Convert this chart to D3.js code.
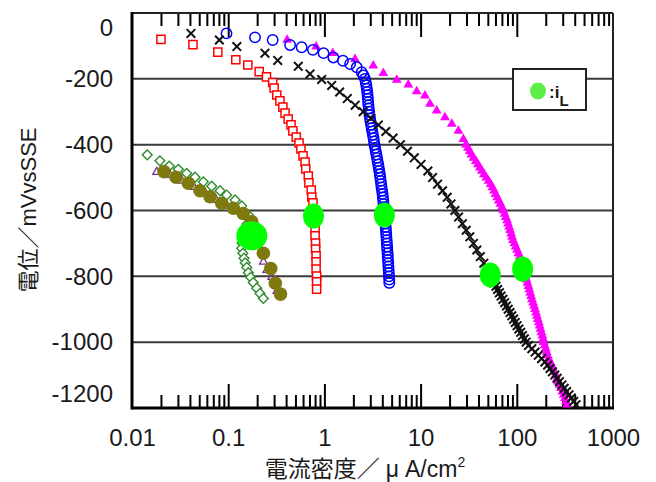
<!DOCTYPE html>
<html>
<head>
<meta charset="utf-8">
<title>分極曲線</title>
<script src="https://d3js.org/d3.v7.min.js"></script>
<style>
  body { margin: 0; background: #fff; }
  svg text { font-family: "Liberation Sans", Arial, "Noto Sans CJK JP", sans-serif; fill: #1a1a1a; }
</style>
</head>
<body>
<div id="chart"></div>
<script>

// ---- data (E in mV vs SSE, i in uA/cm2) ----
var xTickLabels = ["0.01", "0.1", "1", "10", "100", "1000"];
var yTickLabels = ["0", "-200", "-400", "-600", "-800", "-1000", "-1200"];

// red open squares
var redE = [-80,-96,-119,-142,-158,-178,-194,-211,-228,-249,-267,-286,-304,-322,-340,-358,-377,-395,
  -413,-434,-453,-474,-495,-516,-538,-559,-577,-598,-617,-638,-656,-677,-699,-717,-738,-756,-778,-799,-817,-839];
var redI = [0.020,0.043,0.078,0.12,0.16,0.21,0.25,0.29,0.30,0.32,0.345,0.37,0.39,0.42,0.45,0.47,0.51,0.545,
  0.57,0.60,0.63,0.64,0.68,0.69,0.73,0.74,0.76,0.77,0.78,0.79,0.80,0.80,0.81,0.81,0.82,0.82,0.82,0.83,0.83,0.83];

// blue open circles
var blueE = [-62,-74,-82,-97,-104,-112,-122,-135,-145,-155,-165,-180,
  -190,-200,-210,-220,-230,-240,-250,-260,-270,-280,
  -290,-300,-310,-320,-330,-340,-350,-360,-370,-380,
  -390,-400,-410,-420,-430,-440,-450,-460,-470,-480,
  -490,-500,-510,-520,-530,-540,-550,-560,-570,-580,
  -590,-600,-610,-620,-630,-640,-650,-660,-670,-680,
  -690,-700,-710,-720,-730,-740,-750,-760,-770,-780,
  -790,-800,-810,-820];
var blueI = [0.096,0.19,0.29,0.44,0.58,0.76,0.98,1.24,1.56,1.85,2.17,2.44,
  2.55,2.64,2.69,2.73,2.76,2.79,2.81,2.83,2.85,2.87,
  2.89,2.92,2.94,2.98,3.02,3.06,3.10,3.15,3.19,3.24,
  3.28,3.32,3.37,3.42,3.47,3.52,3.57,3.63,3.67,3.72,
  3.77,3.81,3.85,3.89,3.93,3.98,4.02,4.06,4.09,4.12,
  4.15,4.18,4.21,4.25,4.28,4.31,4.34,4.36,4.39,4.41,
  4.44,4.46,4.49,4.51,4.54,4.56,4.58,4.61,4.63,4.65,
  4.67,4.69,4.72,4.73];

// black crosses
var blackE = [-62,-82,-102,-122,-144,-162,-185,-202,
  -220,-240,-260,-280,-300,-320,-340,-360,-380,-400,
  -420,-440,-460,-480,-500,-520,-540,-560,-580,-600,
  -620,-640,-660,-680,-700,-720,-740,-760,-780,-800,
  -810,-820,-830,-840,-850,-860,-870,-880,-890,-900,
  -910,-920,-930,-940,-950,-960,-970,-980,-990,-1000,
  -1010,-1020,-1030,-1040,-1050,-1060,-1070,-1080,-1090,-1100,
  -1110,-1120,-1130,-1140,-1150,-1160,-1170,-1180,-1190];
var blackI = [0.041,0.081,0.123,0.241,0.327,0.535,0.709,0.937,
  1.19,1.44,1.73,2.09,2.53,3.04,3.64,4.35,5.18,6.17,
  7.31,8.60,10.1,11.9,13.3,15.0,16.9,18.9,20.7,22.7,
  24.8,27.2,29.8,32.5,35.4,38.4,41.8,45.4,49.4,53.5,
  55.9,58.2,60.8,63.2,65.9,68.7,71.7,74.8,78.2,81.4,
  85.0,88.7,92.6,96.5,100.7,105.1,109.8,114.6,119.7,125.0,
  132.3,143.2,155.0,167.3,181.1,196.0,209.1,221.4,234.5,248.3,
  262.4,277.9,294.3,311.0,329.4,348.8,368.6,390.4,413.4];

// magenta filled triangles
var magE = [-82,-102,-122,-140,-160,-183,-203,-218,-238,-251,-276,-297,-317,-337,-358,-383,
  -400,-410,-420,-430,-440,-450,-460,-470,-480,-490,
  -500,-510,-520,-530,-540,-550,-560,-570,-580,-590,
  -600,-610,-620,-630,-640,-650,-660,-670,-680,-690,
  -700,-710,-720,-730,-740,-750,-760,-770,-780,-790,
  -800,-810,-820,-830,-840,-850,-860,-870,-880,-890,
  -900,-910,-920,-930,-940,-950,-960,-970,-980,-990,
  -1000,-1010,-1020,-1030,-1040,-1050,-1060,-1070,-1080,-1090,
  -1100,-1110,-1120,-1130,-1140,-1150,-1160,-1170,-1180,-1190];
var magI = [0.41,0.82,1.22,2.08,3.22,4.10,5.65,7.45,9.11,11.1,12.5,14.7,17.9,21.1,24.7,27.8,
  29.6,31.1,32.4,33.8,35.5,37.6,39.4,41.3,43.3,45.6,
  48.2,50.9,53.4,55.8,58.1,60.1,62.6,65.0,67.5,70.0,
  72.4,74.7,76.9,79.3,81.2,83.2,85.2,87.3,89.2,91.3,
  94.4,97.4,100.5,103.9,107.4,110.6,112.7,115.2,117.7,120.5,
  123.2,126.2,128.9,132.0,134.9,137.8,140.8,143.9,147.4,151.0,
  154.6,158.4,161.8,165.3,169.3,172.6,176.4,180.2,184.1,187.7,
  190.4,195.0,199.7,204.1,209.1,214.6,221.9,228.9,236.7,244.8,
  253.1,261.8,270.0,279.2,288.0,297.9,307.3,316.2,325.4,334.1];

// dark green open diamonds
var diaE = [-431,-449,-465,-475,-487,-499,-513,-526,-540,-553,-568,-586,-614,-641,-671,-699,
  -715,-730,-745,-759,-773,-789,-803,-819,-836,-852,-867];
var diaI = [0.0144,0.0195,0.0244,0.0303,0.0370,0.0452,0.0551,0.0674,0.0822,0.0965,0.118,0.138,0.162,0.157,0.146,0.139,
  0.138,0.142,0.146,0.150,0.156,0.162,0.171,0.182,0.198,0.214,0.232];

// purple open triangles
var purE = [-483,-492,-510,-529,-547,-568,-586,-602,-620,-653,-705,-756,-781,-802,-845];
var purI = [0.0181,0.0248,0.0331,0.0441,0.0574,0.0747,0.0972,0.126,0.157,0.185,0.204,0.233,0.253,0.285,0.322];

// olive filled circles
var oliveE = [-482,-499,-517,-540,-558,-578,-593,-609,-634,-681,-730,-776,-821,-854];
var oliveI = [0.0215,0.0287,0.0385,0.0509,0.0647,0.0856,0.113,0.143,0.176,0.199,0.232,0.277,0.309,0.350];

// limiting current density iL (green)
var ilE = [-617,-614,-796,-778,-677];
var ilI = [0.77,4.2,53,115,0.176];

// ---- chart ----
var width = 656, height = 482;
var margin = {top: 13, right: 43, bottom: 74, left: 132};
var x0 = margin.left, x1 = width - margin.right;
var y0 = margin.top, y1 = height - margin.bottom;

var svg = d3.select("#chart")
  .append("svg")
    .attr("width", width)
    .attr("height", height);

var x = d3.scaleLog().domain([0.01, 1000]).range([x0, x1]);
var y = d3.scaleLinear().domain([-1200, 0]).range([y1, y0]);

function pts(E, I) {
  return E.map(function(e, k) { return {e: e, i: I[k]}; });
}

// horizontal grid
svg.append("g")
  .selectAll("line")
  .data([-200, -400, -600, -800, -1000])
  .enter().append("line")
    .attr("x1", x0).attr("x2", x1)
    .attr("y1", function(d) { return y(d); })
    .attr("y2", function(d) { return y(d); })
    .attr("stroke", "#3a3a3a")
    .attr("stroke-width", 2);

// log ticks, inside on top and bottom
var decades = [0.1, 1, 10, 100];
var minor = x.ticks().filter(function(v) {
  var l = Math.log10(v);
  return Math.abs(l - Math.round(l)) > 1e-6;
});

function tickAxis(axis, ty, vals, len) {
  var g = svg.append("g")
    .attr("transform", "translate(0," + ty + ")")
    .call(axis(x).tickValues(vals).tickSize(len).tickFormat(""));
  g.select(".domain").remove();
  g.selectAll("line").attr("stroke", "#000").attr("stroke-width", 2);
}
tickAxis(d3.axisTop, y1, minor, 13);
tickAxis(d3.axisTop, y1, decades, 24);
tickAxis(d3.axisBottom, y0, minor, 13);
tickAxis(d3.axisBottom, y0, decades, 24);

// x tick labels
var xl = svg.append("g")
  .attr("transform", "translate(0," + y1 + ")")
  .call(d3.axisBottom(x)
    .tickValues([0.01, 0.1, 1, 10, 100, 1000])
    .tickSize(0).tickPadding(21)
    .tickFormat(function(d, k) { return xTickLabels[k]; }));
xl.select(".domain").remove();
xl.selectAll("text").attr("font-size", 24).attr("font-family", null).style("fill", "#1a1a1a");

// y tick labels
var yl = svg.append("g")
  .attr("transform", "translate(" + x0 + ",0)")
  .call(d3.axisLeft(y)
    .tickValues([0, -200, -400, -600, -800, -1000, -1200])
    .tickSize(0).tickPadding(19)
    .tickFormat(function(d, k) { return yTickLabels[k]; }));
yl.select(".domain").remove();
yl.selectAll("text").attr("font-size", 24).attr("font-family", null).style("fill", "#1a1a1a")
  .attr("transform", function(d) { return d === 0 ? "translate(0,15)" : d === -1200 ? "translate(0,-14)" : null; });

// frame
svg.append("line").attr("x1", x0).attr("x2", x1).attr("y1", y0).attr("y2", y0).attr("stroke", "#222").attr("stroke-width", 2);
svg.append("line").attr("x1", x1).attr("x2", x1).attr("y1", y0).attr("y2", y1).attr("stroke", "#222").attr("stroke-width", 2);
svg.append("line").attr("x1", x0).attr("x2", x0).attr("y1", y0 - 1).attr("y2", y1 + 1.5).attr("stroke", "#000").attr("stroke-width", 3);
svg.append("line").attr("x1", x0).attr("x2", x1 + 1).attr("y1", y1).attr("y2", y1).attr("stroke", "#000").attr("stroke-width", 3);

// series markers
function markers(data, symbol, size, stroke, fill, sw, rot) {
  svg.append("g")
    .selectAll("path")
    .data(data)
    .enter().append("path")
      .attr("d", d3.symbol().type(symbol).size(size))
      .attr("transform", function(d) {
        return "translate(" + x(d.i) + "," + y(d.e) + ")" + (rot ? " rotate(" + rot + ")" : "");
      })
      .attr("fill", fill)
      .attr("stroke", stroke)
      .attr("stroke-width", sw);
}

markers(pts(magE, magI), d3.symbolTriangle, 42, "none", "#ff00ff", 0);
markers(pts(blueE, blueI), d3.symbolCircle, 85, "#0000ff", "none", 1.5);
markers(pts(redE, redI), d3.symbolSquare, 66, "#ff0000", "#fff", 1.5);
markers(pts(diaE, diaI), d3.symbolSquare, 48, "#2e8b2e", "#fff", 1.4, 45);
markers(pts(purE, purI), d3.symbolTriangle, 28, "#7b2fa0", "none", 1.3);
markers(pts(oliveE, oliveI), d3.symbolCircle, 145, "none", "#7f7a10", 0);
markers(pts(blackE, blackI), d3.symbolTimes, 50, "#111", "none", 2);

// iL points (the one in the left cluster is drawn larger)
svg.append("g")
  .selectAll("ellipse")
  .data(pts(ilE, ilI))
  .enter().append("ellipse")
    .attr("cx", function(d) { return x(d.i); })
    .attr("cy", function(d) { return y(d.e); })
    .attr("rx", function(d, k) { return k === 4 ? 15.5 : 10.5; })
    .attr("ry", function(d, k) { return k === 4 ? 14.5 : 12.5; })
    .attr("fill", "#00ff00");

// legend
var lg = svg.append("g");
lg.append("rect")
  .attr("x", 513).attr("y", 69).attr("width", 73).attr("height", 41)
  .attr("fill", "#fff").attr("stroke", "#222").attr("stroke-width", 2);
lg.append("ellipse")
  .attr("cx", 538).attr("cy", 91).attr("rx", 8).attr("ry", 8.5)
  .attr("fill", "#5cf046");
var lt = lg.append("text")
  .attr("x", 549).attr("y", 98)
  .attr("font-size", 17).attr("font-weight", "bold");
lt.append("tspan").text(":i");
lt.append("tspan").attr("dy", 8).attr("font-size", 15).text("L");

// axis titles
svg.append("text")
  .attr("transform", "translate(28,210) rotate(-90)")
  .attr("text-anchor", "middle")
  .attr("dominant-baseline", "central")
  .attr("font-size", 22)
  .text("電位／mVvsSSE");

var xt = svg.append("text")
  .attr("x", 365).attr("y", 477)
  .attr("text-anchor", "middle")
  .attr("font-size", 23);
xt.append("tspan").text("電流密度／");
xt.append("tspan").attr("dx", 6).text("μ");
xt.append("tspan").attr("dx", 6).text("A/cm");
xt.append("tspan").attr("dy", -10).attr("font-size", 14).text("2");

</script>
</body>
</html>
